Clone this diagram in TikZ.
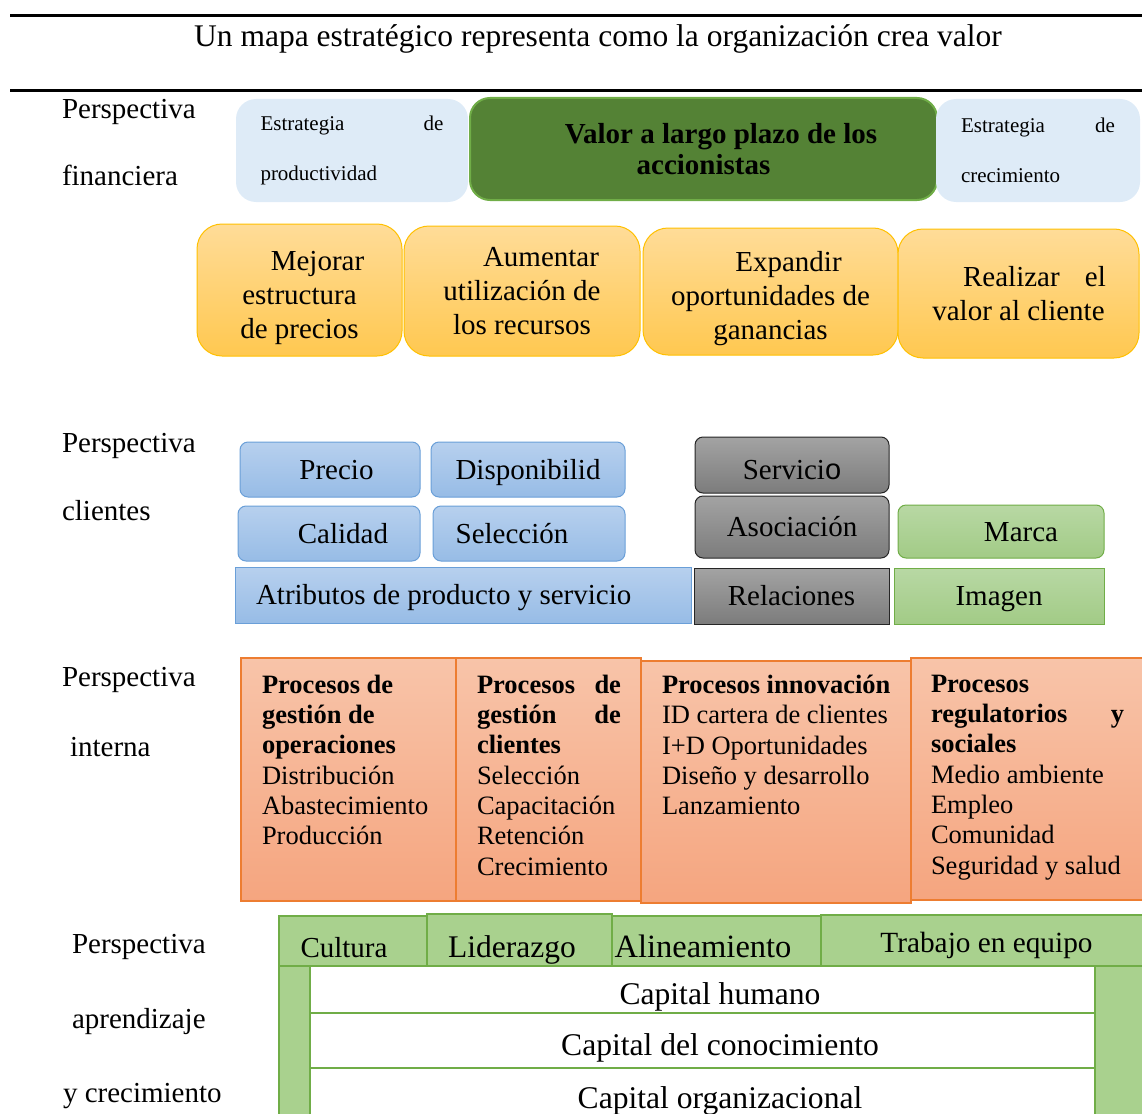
\documentclass[tikz,border=0pt]{standalone}
\usepackage{fontspec}
\setmainfont{Liberation Serif}
\setsansfont{Liberation Sans}
\usetikzlibrary{positioning}

\definecolor{stratblue}{HTML}{DEEBF7}
\definecolor{valgreen}{HTML}{548235}
\definecolor{valedge}{HTML}{70AD47}
\definecolor{goldtop}{HTML}{FFDC98}
\definecolor{goldbot}{HTML}{FFC850}
\definecolor{goldedge}{HTML}{FFC000}
\definecolor{bluetop}{HTML}{B7D0EE}
\definecolor{bluebot}{HTML}{97BCE6}
\definecolor{blueedge}{HTML}{6A9FD8}
\definecolor{greytop}{HTML}{A3A3A3}
\definecolor{greybot}{HTML}{7C7C7C}
\definecolor{greentop}{HTML}{B8D8A4}
\definecolor{greenbot}{HTML}{A2CB86}
\definecolor{salmtop}{HTML}{F8C4A9}
\definecolor{salmbot}{HTML}{F5A57F}
\definecolor{salmedge}{HTML}{ED7D31}
\definecolor{learngreen}{HTML}{A9D18E}

\begin{document}
\begin{tikzpicture}[%
    x=1pt, y=-1pt,
    every node/.style={inner sep=0pt, outer sep=0pt},
    big/.style={font=\fontsize{29}{33}\selectfont},
    persp/.style={big, anchor=base west},
    rule/.style={line width=2.5pt},
    strat/.style={anchor=north west, rounded corners=20pt, fill=stratblue,
        align=flush left, font=\fontsize{21}{50}\selectfont},
    goal/.style={anchor=north west, rounded corners=25pt, draw=goldedge,
        line width=1pt, top color=goldtop, bottom color=goldbot,
        font=\fontsize{29}{34}\selectfont, align=center},
    cbox/.style={anchor=north west, big, text height=19pt, text depth=0pt,
        line width=1pt},
    bluebox/.style={cbox, draw=blueedge, top color=bluetop, bottom color=bluebot},
    greybox/.style={cbox, draw=black!85, top color=greytop, bottom color=greybot},
    grnbox/.style={cbox, draw=valedge, top color=greentop, bottom color=greenbot},
    procbox/.style={anchor=north west, draw=salmedge, line width=1.5pt,
        top color=salmtop, bottom color=salmbot},
    proc/.style={align=flush left, font=\fontsize{26.5}{30.3}\selectfont},
    tab/.style={anchor=north west, draw=valedge, line width=2pt, fill=learngreen,
        text depth=0pt},
    capital/.style={anchor=north west, draw=valedge, line width=2pt, fill=white,
        minimum width=785pt, text height=29pt, text depth=0pt,
        font=\fontsize{31.6}{35}\selectfont},
  ]
  \useasboundingbox (0,0) rectangle (1142,1113);

  % title between two rules
  \draw[rule] (10,15.5) -- (1142,15.5);
  \node[font=\fontsize{31.5}{36}\selectfont, anchor=base] (title) at (598,47)
    {Un mapa estratégico representa como la organización crea valor};
  \draw[rule] (10,90.5) -- (1142,90.5);

  % perspective labels
  \node[persp] (pf1) at (62,118)  {Perspectiva};
  \node[persp] (pf2) at (62,185)  {financiera};
  \node[persp] (pc1) at (62,452)  {Perspectiva};
  \node[persp] (pc2) at (62,520)  {clientes};
  \node[persp] (pi1) at (62,686)  {Perspectiva};
  \node[persp] (pi2) at (70,756)  {interna};
  \node[persp] (pa1) at (72,953)  {Perspectiva};
  \node[persp] (pa2) at (72,1028) {aprendizaje};
  \node[persp] (pa3) at (63,1102) {y crecimiento};

  % financial perspective
  \node[strat, minimum width=232pt, minimum height=103pt, text width=183pt]
    (prod) at (236,99) {\makebox[183pt][s]{Estrategia de}\\productividad};
  \node[anchor=north west, rounded corners=20pt, draw=valedge, line width=2pt,
        fill=valgreen, minimum width=467pt, minimum height=102pt, align=center,
        font=\fontsize{29}{31}\selectfont\bfseries]
    (valor) at (470,98) {\hspace*{35pt}Valor a largo plazo de los\\accionistas};
  \node[strat, minimum width=204pt, minimum height=103pt, text width=154pt]
    (crec) at (936,99) {\makebox[154pt][s]{Estrategia de}\\crecimiento};

  \node[goal, minimum width=205pt, minimum height=132pt] (precios) at (197,224)
    {\rule{0pt}{36pt}\hspace*{36pt}Mejorar\\estructura\\de precios};
  \node[goal, minimum width=236pt, minimum height=130pt] (recursos) at (404,226)
    {\hspace*{38pt}Aumentar\\utilización de\\los recursos};
  \node[goal, minimum width=255pt, minimum height=127pt] (ganancias) at (643,228)
    {\rule{0pt}{34pt}\hspace*{36pt}Expandir\\oportunidades de\\ganancias};
  \node[goal, minimum width=241pt, minimum height=129pt] (cliente) at (898,229)
    {\hspace*{32pt}Realizar\hspace{18pt} el\\valor al cliente};

  % customer perspective
  \node[bluebox, rounded corners=8pt, minimum width=180pt, minimum height=55pt]
    (precio) at (240,442) {\hspace*{13pt}Precio};
  \node[bluebox, rounded corners=8pt, minimum width=194pt, minimum height=55pt]
    (dispo) at (431,442) {Disponibilid};
  \node[bluebox, rounded corners=8pt, minimum width=182pt, minimum height=55pt]
    (calidad) at (238,506) {\hspace*{28pt}Calidad};
  \node[bluebox, rounded corners=8pt, minimum width=192pt, minimum height=55pt]
    (selec) at (433,506) {Selección\hspace*{34pt}};
  \node[bluebox, minimum width=456pt, minimum height=56pt, text width=414pt,
        align=flush left]
    (atrib) at (235,567) {Atributos de producto y servicio};

  \node[greybox, rounded corners=8pt, minimum width=194pt, minimum height=56pt,
        text height=29pt]
    (servicio) at (695,437) {Servici{\sffamily o}};
  \node[greybox, rounded corners=8pt, minimum width=194pt, minimum height=62pt]
    (asoc) at (695,496) {Asociación};
  \node[greybox, minimum width=195pt, minimum height=56pt]
    (relac) at (694,568) {Relaciones};

  \node[grnbox, rounded corners=8pt, minimum width=206pt, minimum height=53pt]
    (marca) at (898,505) {\hspace*{40pt}Marca};
  \node[grnbox, minimum width=210pt, minimum height=56pt]
    (imagen) at (894,568) {Imagen};

  % internal perspective
  \node[procbox, minimum width=215pt, minimum height=243pt] (ops) at (241,658) {};
  \node[procbox, minimum width=185pt, minimum height=243pt] (cli) at (456,658) {};
  \node[procbox, minimum width=270pt, minimum height=242pt] (inno) at (641,661) {};
  \node[procbox, minimum width=235pt, minimum height=242pt] (reg) at (911,658) {};

  \node[proc, below right=17pt and 21pt of ops.north west] (opstxt)
    {\textbf{Procesos de}\\\textbf{gestión de}\\\textbf{operaciones}\\
     Distribución\\Abastecimiento\\Producción};
  \node[proc, text width=160pt, below right=17pt and 21pt of cli.north west] (clitxt)
    {\makebox[144pt][s]{\bfseries Procesos de}\\\makebox[144pt][s]{\bfseries gestión de}\\
     \textbf{clientes}\\Selección\\Capacitación\\Retención\\Crecimiento};
  \node[proc, below right=14pt and 21pt of inno.north west] (innotxt)
    {\textbf{Procesos innovación}\\ID cartera de clientes\\I+D Oportunidades\\
     Diseño y desarrollo\\Lanzamiento};
  \node[proc, text width=210pt, below right=17pt and 20pt of reg.north west] (regtxt)
    {\textbf{Procesos}\\\makebox[193pt][s]{\bfseries regulatorios y}\\\textbf{sociales}\\
     Medio ambiente\\Empleo\\Comunidad\\Seguridad y salud};

  % learning and growth perspective
  \node[tab, minimum width=867pt, minimum height=210pt] (learn) at (279,916) {};
  \node[tab, minimum width=148pt, minimum height=50pt, text height=32pt,
        font=\fontsize{29}{31}\selectfont]
    (cultura) at (279,916) {Cultura\hspace*{18pt}};
  \node[tab, minimum width=185pt, minimum height=52pt, text height=34pt,
        font=\fontsize{31.5}{34}\selectfont]
    (lider) at (427,914) {Liderazgo\hspace*{15pt}};
  \node[tab, minimum width=209pt, minimum height=50pt, text height=32pt,
        font=\fontsize{32.5}{34}\selectfont]
    (alinea) at (612,916) {Alineamiento\hspace*{27pt}};
  \node[tab, minimum width=325pt, minimum height=51pt, text height=23pt,
        font=\fontsize{29.3}{31}\selectfont]
    (equipo) at (821,915) {\hspace*{6pt}Trabajo en equipo};

  \node[capital, minimum height=47pt] (humano) at (310,966)
    {\hspace*{35pt}Capital humano};
  \node[capital, minimum height=55pt] (conoc) at (310,1013)
    {\hspace*{35pt}Capital del conocimiento};
  \node[capital, minimum height=52pt] (organ) at (310,1068)
    {\hspace*{35pt}Capital organizacional};
\end{tikzpicture}
\end{document}
